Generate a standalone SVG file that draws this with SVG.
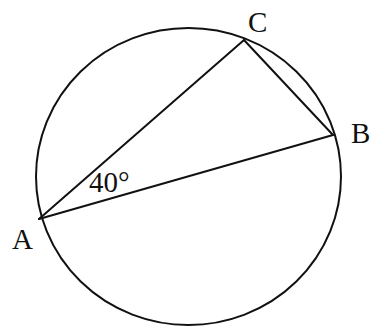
<svg xmlns="http://www.w3.org/2000/svg" width="370" height="327" viewBox="0 0 370 327">
<style>
.ln{fill:none;stroke:#111;stroke-width:2;stroke-linejoin:round;stroke-linecap:round}
.lb{font-family:"Liberation Serif","Times New Roman",serif;font-size:29px;fill:#111}
</style>
<rect width="370" height="327" fill="#fff"/>
<g id="circle"><ellipse class="ln" cx="188.5" cy="176.5" rx="152.5" ry="148.5"/></g>
<g id="edges">
<line class="ln" x1="39" y1="219" x2="244" y2="40"/>
<line class="ln" x1="244" y1="40" x2="333" y2="135"/>
<line class="ln" x1="39" y1="219" x2="333" y2="135"/>
</g>
<g id="A"><text class="lb" x="12" y="249">A</text></g>
<g id="B"><text class="lb" x="351" y="143">B</text></g>
<g id="C"><text class="lb" x="248" y="32">C</text></g>
<g id="angle"><text class="lb" x="89" y="192">40°</text></g>
</svg>
